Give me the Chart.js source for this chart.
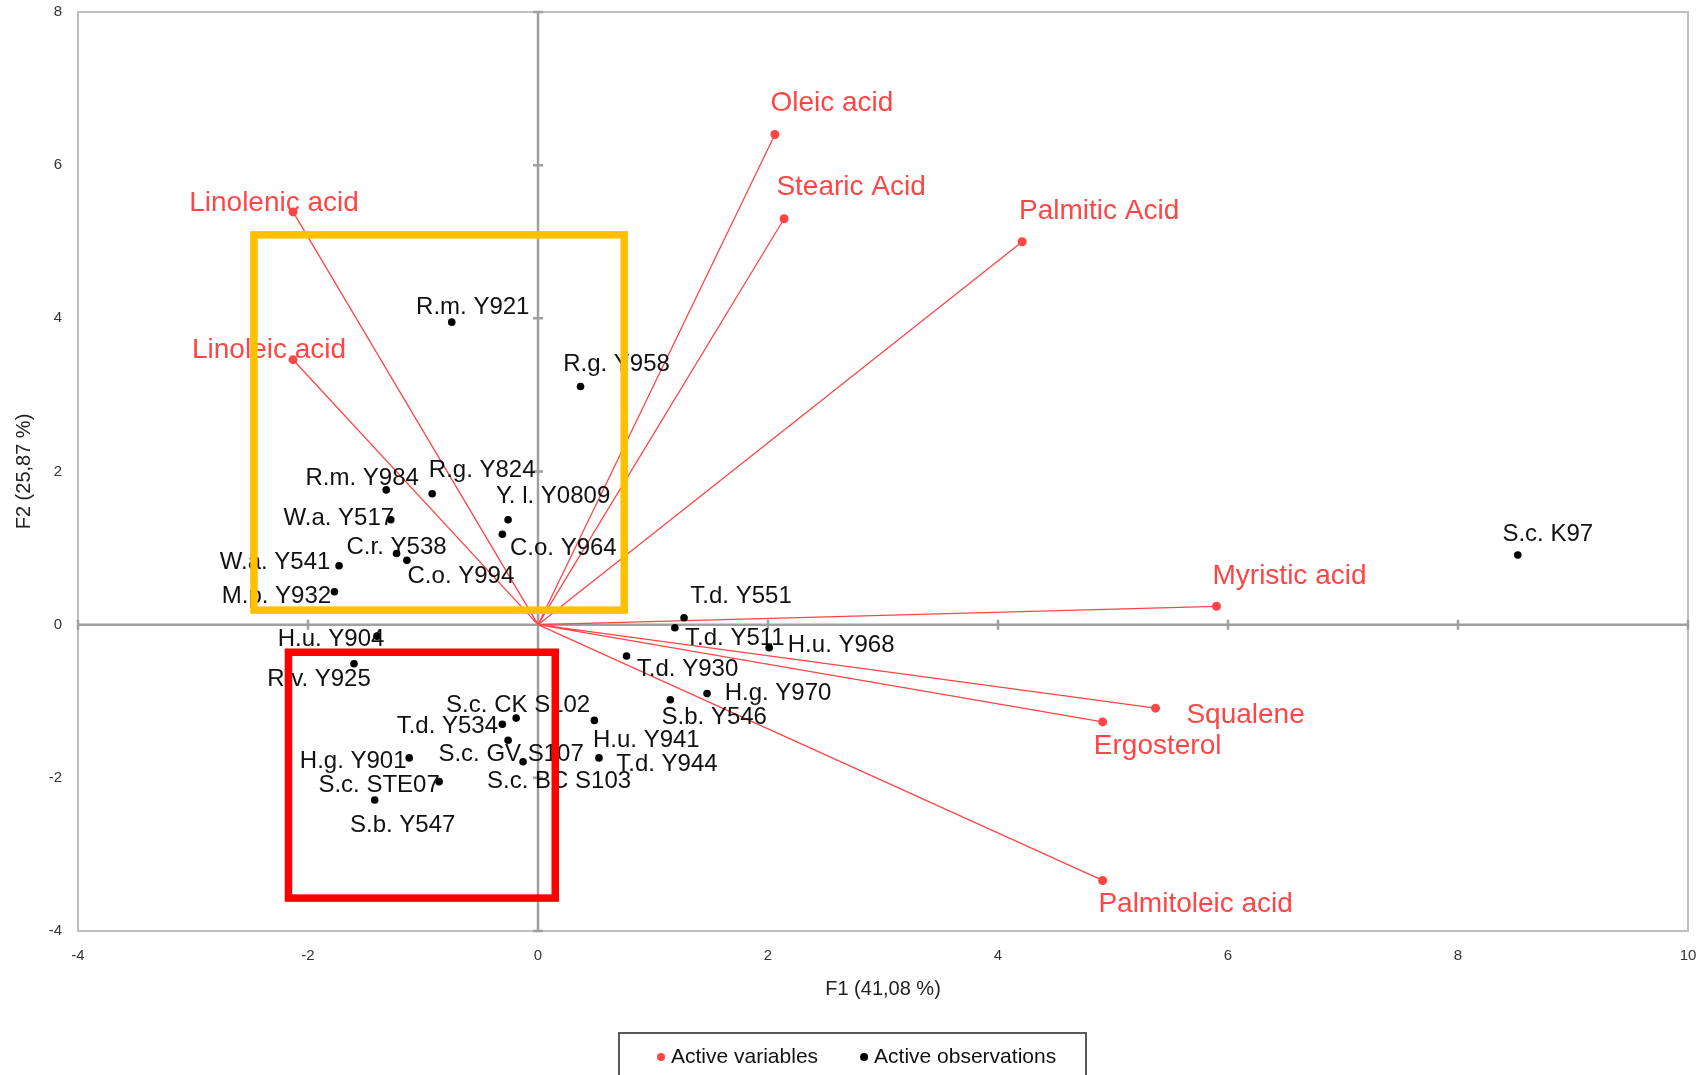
<!DOCTYPE html>
<html>
<head>
<meta charset="utf-8">
<script src="https://cdn.jsdelivr.net/npm/chart.js@4.4.1/dist/chart.umd.min.js"></script>
<style>
  body { margin: 0; background: #fff; }
  #biplot { display: block; }
</style>
</head>
<body>
<canvas id="biplot" width="1704" height="1075"></canvas>
<script>
// axis ticks
const xTicks = [-4, -2, 0, 2, 4, 6, 8, 10];
const yTicks = [-4, -2, 0, 2, 4, 6, 8];

// active variables (loadings, drawn as vectors from origin)
const varNames = ["Oleic acid", "Stearic Acid", "Palmitic Acid", "Linolenic acid", "Linoleic acid",
  "Myristic acid", "Squalene", "Ergosterol", "Palmitoleic acid"];
const varF1 = [2.06, 2.14, 4.21, -2.13, -2.13, 5.90, 5.37, 4.91, 4.91];
const varF2 = [6.40, 5.30, 5.00, 5.39, 3.46, 0.24, -1.09, -1.27, -3.34];

// active observations (strains)
const obsNames = ["R.m. Y921", "R.g. Y958", "R.m. Y984", "R.g. Y824", "Y. l. Y0809", "C.o. Y964",
  "W.a. Y517", "C.r. Y538", "C.o. Y994", "W.a. Y541", "M.p. Y932", "H.u. Y904", "R.v. Y925",
  "S.c. CK S102", "T.d. Y534", "S.c. GV S107", "S.c. BC S103", "H.g. Y901", "S.c. STE07", "S.b. Y547",
  "T.d. Y551", "T.d. Y511", "H.u. Y968", "T.d. Y930", "H.g. Y970", "S.b. Y546", "H.u. Y941",
  "T.d. Y944", "S.c. K97"];
const obsF1 = [-0.75, 0.37, -1.32, -0.92, -0.26, -0.31, -1.28, -1.23, -1.14, -1.73, -1.77, -1.40, -1.60,
  -0.19, -0.31, -0.26, -0.13, -1.12, -0.86, -1.42, 1.27, 1.19, 2.01, 0.77, 1.47, 1.15, 0.49, 0.53, 8.52];
const obsF2 = [3.95, 3.11, 1.76, 1.71, 1.37, 1.18, 1.37, 0.93, 0.84, 0.77, 0.43, -0.15, -0.51,
  -1.22, -1.30, -1.51, -1.79, -1.74, -2.05, -2.29, 0.09, -0.04, -0.30, -0.41, -0.90, -0.98, -1.25, -1.74, 0.91];

// highlight boxes (data units)
const yellowBoxX = [-2.47, 0.75];
const yellowBoxY = [0.19, 5.09];
const redBoxX = [-2.17, 0.15];
const redBoxY = [-3.57, -0.36];

// label placement (pixel offset of text centre from its point)
const varLabelOffsets = [[57, -31], [67, -31], [77, -30], [-19, -9], [-24, -9],
  [73, -30], [90, 7], [55, 24], [93, 24]];
const obsLabelOffsets = [[21, -15], [36, -22], [-24, -12], [50, -23], [45, -23], [61, 14],
  [-52, -1], [0, -6], [54, 16], [-64, -3], [-58, 5], [-46, 3], [-35, 16],
  [2, -13], [-55, 2], [3, 14], [36, 20], [-56, 3], [-60, 4], [28, 25],
  [57, -21], [60, 11], [72, -2], [61, 13], [71, 0], [44, 18], [52, 20], [68, 6], [30, -21]];

const RED = "#ff4545";
const FONT = "'Liberation Sans', Arial, sans-serif";

const frameAndAxes = {
  id: "frameAndAxes",
  beforeDatasetsDraw(chart) {
    const { ctx, chartArea: a, scales: { x, y } } = chart;
    ctx.save();
    ctx.strokeStyle = "#bfbfbf";
    ctx.lineWidth = 2;
    ctx.strokeRect(a.left, a.top, a.right - a.left, a.bottom - a.top);

    const x0 = x.getPixelForValue(0), y0 = y.getPixelForValue(0);
    ctx.strokeStyle = "#a0a0a0";
    ctx.lineWidth = 2.5;
    ctx.beginPath();
    ctx.moveTo(x0, a.top); ctx.lineTo(x0, a.bottom);
    ctx.moveTo(a.left, y0); ctx.lineTo(a.right, y0);
    yTicks.forEach(v => { const p = y.getPixelForValue(v); ctx.moveTo(x0 - 5, p); ctx.lineTo(x0 + 5, p); });
    xTicks.forEach(v => { const p = x.getPixelForValue(v); ctx.moveTo(p, y0 - 5); ctx.lineTo(p, y0 + 5); });
    ctx.stroke();

    // loading vectors
    ctx.strokeStyle = RED;
    ctx.lineWidth = 1.3;
    ctx.beginPath();
    varF1.forEach((v, i) => {
      ctx.moveTo(x0, y0);
      ctx.lineTo(x.getPixelForValue(v), y.getPixelForValue(varF2[i]));
    });
    ctx.stroke();
    ctx.restore();
  },
  afterDatasetsDraw(chart) {
    const { ctx, scales: { x, y } } = chart;
    ctx.save();
    ctx.textAlign = "center";
    ctx.textBaseline = "middle";
    const vMeta = chart.getDatasetMeta(0), oMeta = chart.getDatasetMeta(1);
    ctx.font = "28px " + FONT;
    ctx.fillStyle = RED;
    vMeta.data.forEach((pt, i) => {
      ctx.fillText(varNames[i], pt.x + varLabelOffsets[i][0], pt.y + varLabelOffsets[i][1]);
    });
    ctx.font = "24px " + FONT;
    ctx.fillStyle = "#111";
    oMeta.data.forEach((pt, i) => {
      ctx.fillText(obsNames[i], pt.x + obsLabelOffsets[i][0], pt.y + obsLabelOffsets[i][1]);
    });

    // highlight boxes on top
    ctx.lineWidth = 7.5;
    [[yellowBoxX, yellowBoxY, "#ffc000"], [redBoxX, redBoxY, "#ff0000"]].forEach(([bx, by, c]) => {
      const l = x.getPixelForValue(bx[0]), r = x.getPixelForValue(bx[1]);
      const t = y.getPixelForValue(by[1]), b = y.getPixelForValue(by[0]);
      ctx.strokeStyle = c;
      ctx.strokeRect(l, t, r - l, b - t);
    });
    ctx.restore();
  },
  afterDraw(chart) {
    // legend with frame
    const { ctx } = chart;
    ctx.save();
    ctx.font = "21px " + FONT;
    ctx.textBaseline = "middle";
    const ds = chart.data.datasets;
    const gap = 42, dotGap = 14;
    let cx = 657;
    const cy = 1057;
    ctx.strokeStyle = "#595959";
    ctx.lineWidth = 2;
    ctx.strokeRect(619, 1033, 467, 60);
    ds.forEach(d => {
      ctx.fillStyle = d.pointBackgroundColor;
      ctx.beginPath();
      ctx.arc(cx + 4, cy, 4, 0, Math.PI * 2);
      ctx.fill();
      ctx.fillStyle = "#111";
      ctx.fillText(d.label, cx + dotGap, cy);
      cx += dotGap + ctx.measureText(d.label).width + gap;
    });
    ctx.restore();
  }
};

new Chart(document.getElementById("biplot"), {
  type: "scatter",
  data: {
    datasets: [
      {
        label: "Active variables",
        data: varF1.map((v, i) => ({ x: v, y: varF2[i] })),
        pointBackgroundColor: RED,
        pointBorderWidth: 0,
        pointRadius: 4.5
      },
      {
        label: "Active observations",
        data: obsF1.map((v, i) => ({ x: v, y: obsF2[i] })),
        pointBackgroundColor: "#000",
        pointBorderWidth: 0,
        pointRadius: 3.8
      }
    ]
  },
  options: {
    responsive: false,
    animation: false,
    layout: { padding: { left: 0, right: 16, top: 12, bottom: 64 } },
    plugins: { legend: { display: false }, tooltip: { enabled: false } },
    scales: {
      x: {
        min: -4, max: 10,
        afterBuildTicks: s => { s.ticks = xTicks.map(v => ({ value: v })); },
        afterFit: s => { s.height = 80; s.paddingLeft = 0; s.paddingRight = 0; },
        grid: { display: false, drawTicks: false },
        border: { display: false },
        ticks: { padding: 16, color: "#333", font: { size: 15, family: FONT } },
        title: { display: true, text: "F1 (41,08 %)", color: "#222", padding: { top: 0, bottom: 10 },
          font: { size: 20, family: FONT } }
      },
      y: {
        min: -4, max: 8,
        afterBuildTicks: s => { s.ticks = yTicks.map(v => ({ value: v })); },
        afterFit: s => { s.width = 78; s.paddingTop = 0; s.paddingBottom = 0; },
        grid: { display: false, drawTicks: false },
        border: { display: false },
        ticks: { padding: 16, color: "#333", font: { size: 15, family: FONT } },
        title: { display: true, text: "F2 (25,87 %)", color: "#222", padding: { top: 12, bottom: 0 },
          font: { size: 20, family: FONT } }
      }
    }
  },
  plugins: [frameAndAxes]
});
</script>
</body>
</html>
